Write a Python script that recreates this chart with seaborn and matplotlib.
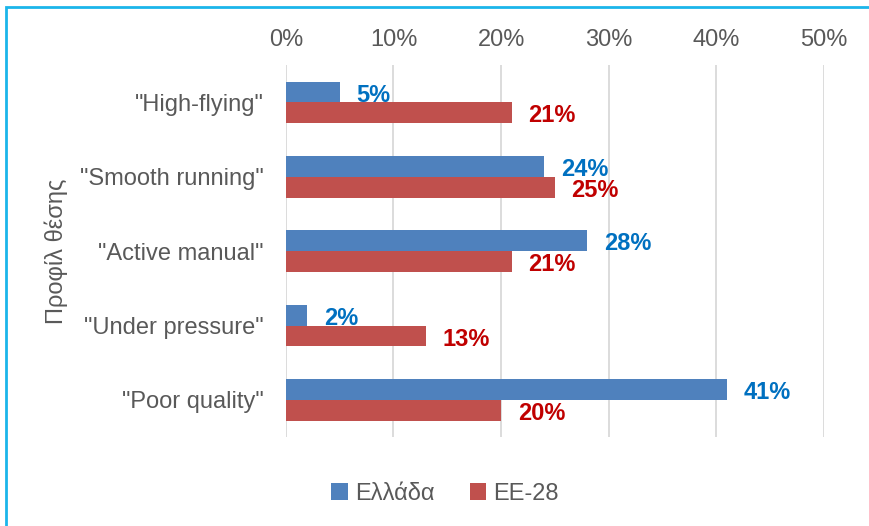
import matplotlib
matplotlib.use("Agg")
import matplotlib.pyplot as plt
import matplotlib.patches as mpatches
import pandas as pd
import seaborn as sns

profiles = ['"High-flying"', '"Smooth running"', '"Active manual"', '"Under pressure"', '"Poor quality"']
greece = [5, 24, 28, 2, 41]
eu28 = [21, 25, 21, 13, 20]
regions = ["Ελλάδα", "ΕΕ-28"]
ticks = [0, 10, 20, 30, 40, 50]

df = pd.DataFrame({
    "profile": profiles * 2,
    "value": greece + eu28,
    "region": [regions[0]] * len(profiles) + [regions[1]] * len(profiles),
})

sns.set_style("white")
plt.rcParams['font.family'] = ['Liberation Sans', 'DejaVu Sans']
grey = "#595959"
fs = 17

fig = plt.figure(figsize=(8.69, 5.26), dpi=100)
ax = fig.add_axes([0.329, 0.169, 0.619, 0.707])

sns.barplot(data=df, y="profile", x="value", hue="region", hue_order=regions,
            order=profiles, orient="h", palette=["#4F81BD", "#C0504D"],
            width=0.56, saturation=1, linewidth=0, ax=ax)

label_colors = ["#0070C0", "#C00000"]
for cont, col in zip(ax.containers, label_colors):
    texts = ax.bar_label(cont, fmt="{:.0f}%", padding=12, color=col,
                         fontsize=fs, fontweight="bold")
    for t in texts:
        # nudge labels slightly down like the original
        t.xyann = (12, -2.2)

ax.set_xlim(0, 50)
ax.set_xticks(ticks)
ax.set_xticklabels([f"{t}%" for t in ticks])
ax.xaxis.tick_top()
ax.tick_params(axis="both", length=0, labelsize=fs, labelcolor=grey)
ax.tick_params(axis="x", pad=10)
ax.tick_params(axis="y", pad=16)
ax.grid(axis="x", color="#D9D9D9", linewidth=1.3)
ax.set_axisbelow(True)
for s in ax.spines.values():
    s.set_visible(False)
ax.set_xlabel("")
ax.set_ylabel("Προφίλ θέσης", fontsize=fs, color=grey)
ax.yaxis.set_label_coords(-0.405, 0.5)

ax.legend(loc="center", bbox_to_anchor=(0.512, 0.061), bbox_transform=fig.transFigure,
          ncol=2, frameon=False, fontsize=fs, labelcolor=grey,
          handlelength=0.7, handleheight=0.7, handletextpad=0.3, columnspacing=1.5)

# outer frame of the original chart
fig.patches.append(mpatches.Rectangle((6 / 869, -0.05), 1.1, 1 - 7 / 526 + 0.05,
                                      transform=fig.transFigure, fill=False,
                                      edgecolor="#1BB5EA", linewidth=2))

fig.savefig("out.png", dpi=100)
